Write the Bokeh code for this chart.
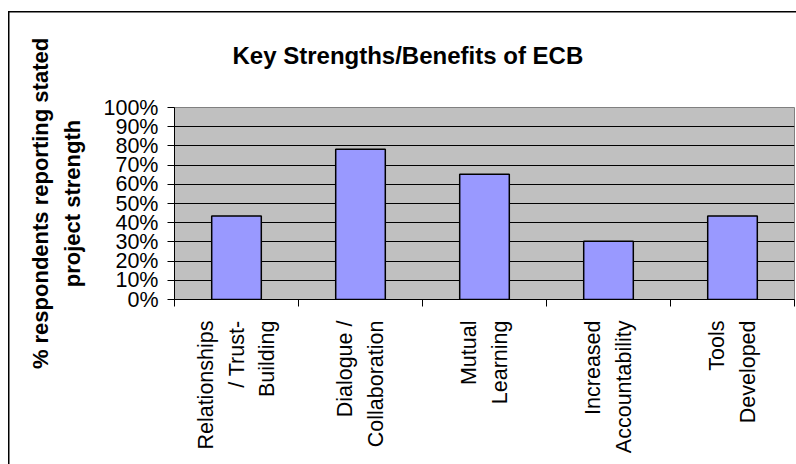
from math import pi

from bokeh.embed import file_html
from bokeh.models import ColumnDataSource, FixedTicker, NumeralTickFormatter, Range1d
from bokeh.plotting import figure
from bokeh.resources import INLINE

# Share of respondents naming each strength
categories = [
    "Relationships\n/ Trust-\nBuilding",
    "Dialogue /\nCollaboration",
    "Mutual\nLearning",
    "Increased\nAccountability",
    "Tools\nDeveloped",
]
share = [0.435, 0.783, 0.652, 0.304, 0.435]
y_ticks = [0.0, 0.1, 0.2, 0.3, 0.4, 0.5, 0.6, 0.7, 0.8, 0.9, 1.0]

title_text = "Key Strengths/Benefits of ECB"
y_label_text = "% respondents reporting stated\nproject strength"

W, H = 796, 464
# plot frame edges in canvas pixels (from left / from top)
FL, FR, FT, FB = 174, 794, 107, 299
FONT = "Liberation Sans"

n = len(categories)
centers = [i + 0.5 for i in range(n)]
bounds = [float(i) for i in range(n + 1)]
src = ColumnDataSource(dict(x=centers, top=share))

p = figure(
    width=W, height=H, output_backend="svg", toolbar_location=None,
    x_range=Range1d(0, n), y_range=Range1d(0, 1),
    min_border_left=FL, min_border_right=W - FR,
    min_border_top=FT, min_border_bottom=H - FB,
)
p.background_fill_color = "#C0C0C0"
p.border_fill_color = None
p.outline_line_color = "#808080"
p.outline_line_width = 1
# thin chart border along the left and top of the page
p.styles = {
    "background": "linear-gradient(#000, #000) 8px 11px / 1.5px 600px no-repeat, "
                  "linear-gradient(#000, #000) 8px 11px / 900px 1.5px no-repeat, #fff",
}

p.title.text = title_text
p.title.text_font = FONT
p.title.text_font_style = "bold"
p.title.text_font_size = "24px"
p.title.text_color = "black"
p.title.align = "left"
p.title.offset = 58
p.title.standoff = 77

p.vbar(x="x", top="top", width=0.4, source=src,
       fill_color="#9999FF", line_color="black", line_width=1.5)

# x axis: category names at bar centres, tick marks at category boundaries
p.xaxis.ticker = FixedTicker(ticks=centers, minor_ticks=bounds)
p.xaxis.major_label_overrides = {c: name for c, name in zip(centers, categories)}
p.xaxis.major_label_orientation = pi / 2
p.xaxis.major_label_text_font = FONT
p.xaxis.major_label_text_font_size = "21.5px"
p.xaxis.major_label_text_color = "black"
p.xaxis.major_label_text_line_height = 1.26
p.xaxis.major_tick_line_color = None
p.xaxis.major_tick_out = 0
p.xaxis.major_tick_in = 0
p.xaxis.major_label_standoff = 14
p.xaxis.minor_tick_line_color = "black"
p.xaxis.minor_tick_out = 7
p.xaxis.minor_tick_in = 0
p.xaxis.axis_line_color = "black"
p.xgrid.visible = False

# y axis: percentages
p.yaxis.ticker = FixedTicker(ticks=y_ticks)
p.yaxis.formatter = NumeralTickFormatter(format="0%")
p.yaxis.major_label_text_font = FONT
p.yaxis.major_label_text_font_size = "21.5px"
p.yaxis.major_label_text_color = "black"
p.yaxis.major_tick_out = 7
p.yaxis.major_tick_in = 0
p.yaxis.major_label_standoff = 9
p.yaxis.minor_tick_line_color = None
p.yaxis.axis_line_color = "black"
p.yaxis.major_tick_line_color = "black"
p.yaxis.axis_label = y_label_text
p.yaxis.axis_label_text_font = FONT
p.yaxis.axis_label_text_font_style = "bold"
p.yaxis.axis_label_text_font_size = "22px"
p.yaxis.axis_label_text_color = "black"
p.yaxis.axis_label_text_line_height = 1.27
p.yaxis.axis_label_standoff = 16
p.ygrid.ticker = FixedTicker(ticks=y_ticks)
p.ygrid.grid_line_color = "black"
p.ygrid.grid_line_width = 1

open("out.html", "w").write(file_html(p, INLINE))
